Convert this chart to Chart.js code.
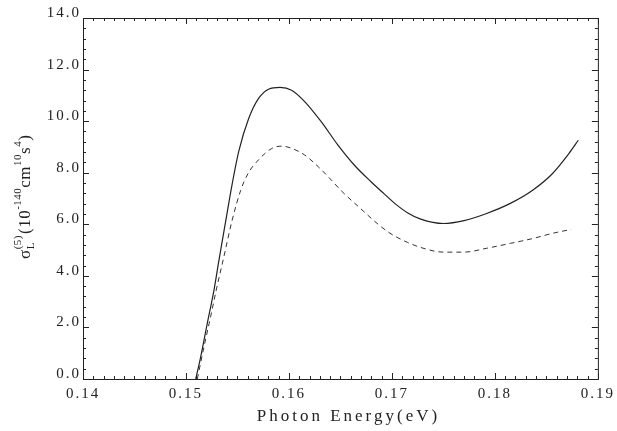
<!DOCTYPE html>
<html>
<head>
<meta charset="utf-8">
<script src="https://cdn.jsdelivr.net/npm/chart.js@4/dist/chart.umd.min.js"></script>
<style>
  html, body { margin: 0; padding: 0; background: #fff; }
  #wrap { width: 617px; height: 431px; }
</style>
</head>
<body>
<div id="wrap"><canvas id="c" width="617" height="431"></canvas></div>
<script>
// values
const solidX = [0.15095, 0.15143, 0.15207, 0.15272, 0.15320, 0.15384, 0.15448, 0.15513, 0.15609, 0.15705, 0.15802, 0.15914, 0.16026, 0.16155, 0.16315, 0.16476, 0.16636, 0.16797, 0.16925, 0.1703, 0.1715, 0.1728, 0.1750, 0.1770, 0.1792, 0.1815, 0.1837, 0.1856, 0.1872, 0.1881];
const solidY = [0.0, 0.86, 2.16, 3.45, 4.6, 6.08, 7.55, 8.84, 10.10, 10.88, 11.24, 11.31, 11.20, 10.75, 9.97, 9.07, 8.29, 7.65, 7.18, 6.8, 6.45, 6.2, 6.03, 6.14, 6.42, 6.81, 7.33, 7.97, 8.75, 9.26];

const dashX = [0.1511, 0.15175, 0.15239, 0.15294, 0.15368, 0.15448, 0.1553, 0.1560, 0.15705, 0.15833, 0.15930, 0.16010, 0.16155, 0.16285, 0.16413, 0.16508, 0.1664, 0.1696, 0.1715, 0.1728, 0.1750, 0.1770, 0.1792, 0.1815, 0.1837, 0.1856, 0.1874];
const dashY = [0.0, 1.25, 2.41, 3.45, 4.74, 6.15, 7.3, 7.95, 8.5, 8.94, 9.03, 8.97, 8.68, 8.23, 7.71, 7.3, 6.81, 5.71, 5.3, 5.1, 4.92, 4.92, 5.07, 5.26, 5.45, 5.65, 5.80];

const xMin = 0.14, xMax = 0.19, xStep = 0.01;
const yMin = 0, yMax = 14, yStep = 2;
const xTitle = 'Photon Energy(eV)';

const pts = (xs, ys) => xs.map((x, i) => ({x: x, y: ys[i]}));

const serif = '"Liberation Serif", "DejaVu Serif", serif';

// inward ticks (major + minor) on all four sides, plus the frame
const frameTicks = {
  id: 'frameTicks',
  beforeDraw(chart) {
    chart.ctx.letterSpacing = '2px';
  },
  afterDraw(chart) {
    const ctx = chart.ctx, a = chart.chartArea;
    const sx = chart.scales.x, sy = chart.scales.y;
    ctx.save();
    ctx.strokeStyle = '#222';
    ctx.lineWidth = 1;
    ctx.strokeRect(a.left + 0.5, a.top + 0.5, a.right - a.left, a.bottom - a.top);
    ctx.beginPath();
    for (let i = 0; i <= 50; i++) {
      const px = Math.round(sx.getPixelForValue(xMin + i * 0.001)) + 0.5;
      const len = i % 10 === 0 ? 6 : 3;
      ctx.moveTo(px, a.bottom); ctx.lineTo(px, a.bottom - len);
      ctx.moveTo(px, a.top); ctx.lineTo(px, a.top + len);
    }
    for (let i = 0; i <= 35; i++) {
      const py = Math.round(sy.getPixelForValue(i * 0.4)) + 0.5;
      const len = i % 5 === 0 ? 6 : 3;
      ctx.moveTo(a.left, py); ctx.lineTo(a.left + len, py);
      ctx.moveTo(a.right, py); ctx.lineTo(a.right - len, py);
    }
    ctx.stroke();

    // x title
    ctx.fillStyle = '#222';
    ctx.letterSpacing = '3px';
    ctx.font = '17px ' + serif;
    ctx.textAlign = 'center';
    ctx.textBaseline = 'alphabetic';
    ctx.fillText(xTitle, (a.left + a.right) / 2 + 8, 421);

    // y title with sub/superscripts, rotated
    ctx.letterSpacing = '0.5px';
    ctx.translate(30, 259);
    ctx.rotate(-Math.PI / 2);
    ctx.textAlign = 'left';
    const big = '17px ' + serif, small = '11px ' + serif;
    let x = 0;
    const put = (t, f, dy) => {
      ctx.font = f;
      ctx.fillText(t, x, dy);
      return ctx.measureText(t).width;
    };
    x += put('\u03C3', big, 0);
    const wL = put('L', small, 4);
    const w5 = put('(5)', small, -9);
    x += Math.max(wL, w5) + 1;
    x += put('(10', big, 0);
    x += put('-140', small, -9);
    x += put('cm', big, 0);
    x += put('10', small, -9);
    x += put('s', big, 0);
    x += put('4', small, -9);
    put(')', big, 0);
    ctx.restore();
  }
};

new Chart(document.getElementById('c'), {
  type: 'line',
  data: {
    datasets: [
      {
        data: pts(solidX, solidY),
        borderColor: '#222',
        borderWidth: 1.2,
        pointRadius: 0,
        fill: false,
        cubicInterpolationMode: 'monotone'
      },
      {
        data: pts(dashX, dashY),
        borderColor: '#333',
        borderWidth: 1,
        borderDash: [5, 4],
        pointRadius: 0,
        fill: false,
        cubicInterpolationMode: 'monotone'
      }
    ]
  },
  options: {
    responsive: false,
    animation: false,
    devicePixelRatio: 1,
    layout: { padding: { left: 0, top: 18, right: 15, bottom: 0 } },
    plugins: { legend: { display: false }, tooltip: { enabled: false } },
    scales: {
      x: {
        type: 'linear',
        min: xMin, max: xMax,
        grid: { display: false, drawTicks: false },
        border: { display: false },
        ticks: {
          stepSize: xStep,
          padding: 6,
          color: '#222',
          font: { family: serif, size: 15 },
          maxRotation: 0,
          callback: v => v.toFixed(2)
        },
        afterFit: s => { s.height = 52; }
      },
      y: {
        min: yMin, max: yMax,
        grid: { display: false, drawTicks: false },
        border: { display: false },
        ticks: {
          stepSize: yStep,
          padding: 2,
          labelOffset: -5,
          color: '#222',
          font: { family: serif, size: 15 },
          callback: v => v.toFixed(1)
        },
        afterFit: s => { s.width = 83; }
      }
    }
  },
  plugins: [frameTicks]
});
</script>
</body>
</html>
